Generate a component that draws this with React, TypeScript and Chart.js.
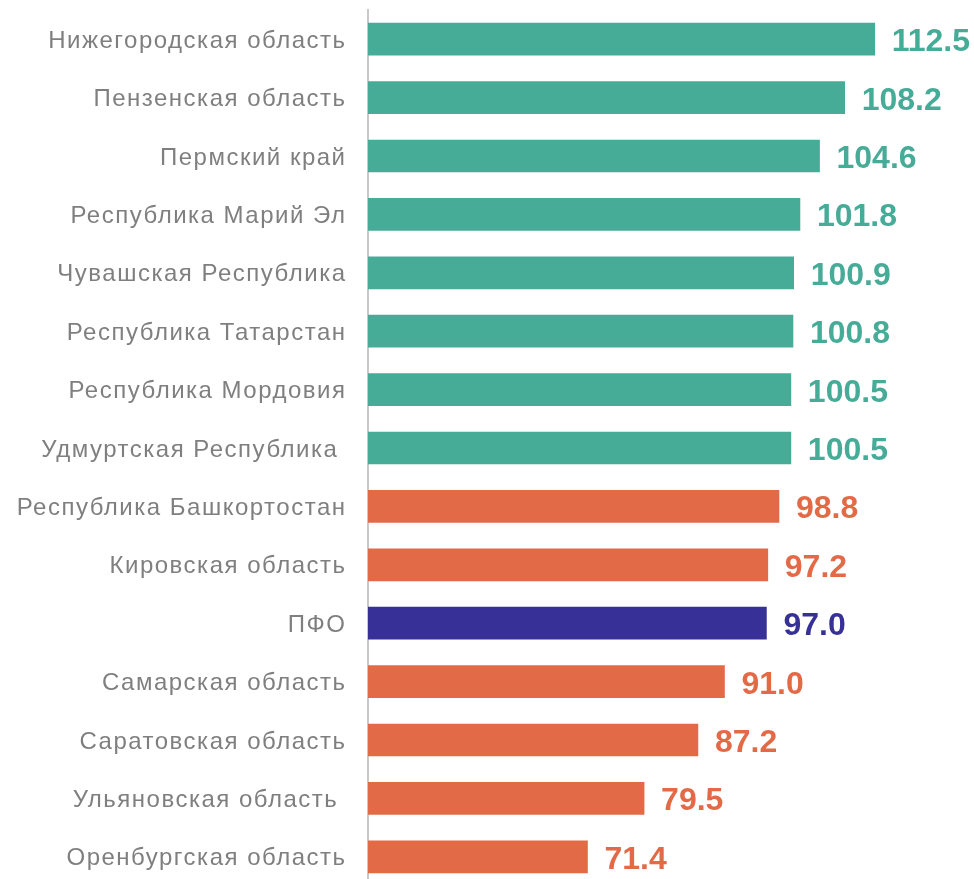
import React, { useEffect, useRef } from "react";
import { Chart, registerables } from "chart.js";

Chart.register(...registerables);

const categories = [
  "Нижегородская область",
  "Пензенская область",
  "Пермский край",
  "Республика Марий Эл",
  "Чувашская Республика",
  "Республика Татарстан",
  "Республика Мордовия",
  "Удмуртская Республика ",
  "Республика Башкортостан",
  "Кировская область",
  "ПФО",
  "Самарская область",
  "Саратовская область",
  "Ульяновская область ",
  "Оренбургская область",
];

const values = [112.5, 108.2, 104.6, 101.8, 100.9, 100.8, 100.5, 100.5, 98.8, 97.2, 97.0, 91.0, 87.2, 79.5, 71.4];

const TEAL = "#46AB97";
const ORANGE = "#E36A47";
const NAVY = "#373197";
const barColors = values.map((v, i) => (categories[i] === "ПФО" ? NAVY : v >= 100 ? TEAL : ORANGE));

const textPlugin = {
  id: "textPlugin",
  afterDatasetsDraw(chart: any) {
    const { ctx } = chart;
    const meta = chart.getDatasetMeta(0);
    const yScale = chart.scales.y;
    ctx.save();
    // category labels
    ctx.font = "24px 'Liberation Sans', Arial, sans-serif";
    (ctx as any).letterSpacing = "1.5px";
    ctx.textAlign = "right";
    ctx.textBaseline = "alphabetic";
    ctx.fillStyle = "#7f7f7f";
    categories.forEach((c, i) => {
      const y = yScale.getPixelForTick(i);
      ctx.fillText(c, yScale.right - 21.5, y + 8.5);
    });
    (ctx as any).letterSpacing = "0px";
    // value labels
    ctx.font = "bold 32px 'Liberation Sans', Arial, sans-serif";
    ctx.textAlign = "left";
    meta.data.forEach((bar: any, i: number) => {
      ctx.fillStyle = barColors[i];
      ctx.fillText(values[i].toFixed(1), bar.x + 17, bar.y + 12);
    });
    ctx.restore();
  },
};

export default function App() {
  const ref = useRef<HTMLCanvasElement | null>(null);
  useEffect(() => {
    if (!ref.current) return;
    const chart = new Chart(ref.current, {
      type: "bar",
      data: {
        labels: categories,
        datasets: [
          {
            data: values,
            backgroundColor: barColors,
            barThickness: 32,
          },
        ],
      },
      options: {
        indexAxis: "y",
        animation: false,
        responsive: false,
        maintainAspectRatio: false,
        layout: { padding: { top: 10, bottom: 10, left: 0, right: 0 } },
        plugins: { legend: { display: false }, tooltip: { enabled: false } },
        scales: {
          x: { display: false, min: 40, max: 126.7 },
          y: {
            afterFit(scale: any) {
              scale.width = 368;
              scale.paddingTop = 0;
              scale.paddingBottom = 0;
            },
            grid: { display: false },
            border: { display: true, color: "#c9c9c9", width: 2 },
            ticks: { display: false },
          },
        },
      },
      plugins: [textPlugin],
    });
    return () => chart.destroy();
  }, []);
  return (
    <div style={{ position: "fixed", left: 0, top: 0, width: 974, height: 879, overflow: "hidden", background: "#fff" }}>
      <canvas ref={ref} width={974} height={896} style={{ display: "block", width: 974, height: 896 }} />
    </div>
  );
}
